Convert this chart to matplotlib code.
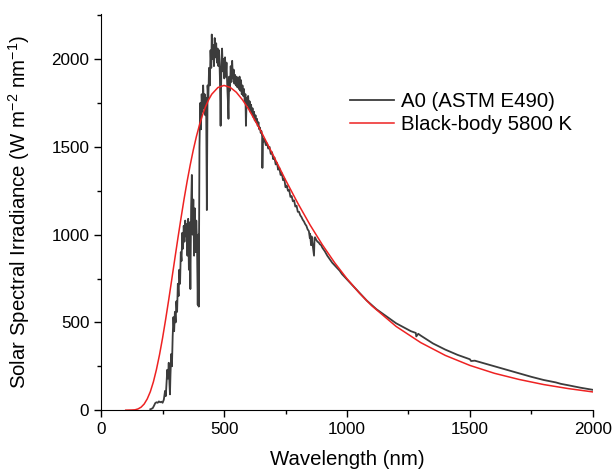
import numpy as np
import matplotlib
matplotlib.use('Agg')
import matplotlib.pyplot as plt
from matplotlib.ticker import MultipleLocator

plt.rcParams['font.family'] = ['Liberation Sans', 'DejaVu Sans']
plt.rcParams['mathtext.fontset'] = 'custom'
plt.rcParams['mathtext.rm'] = 'Liberation Sans'
plt.rcParams['mathtext.it'] = 'Liberation Sans'

# AM0 spectrum (nm, W m-2 nm-1 as labelled)
am0_wl = [200, 205, 210, 215, 220, 225, 230, 235, 240, 245, 250, 255, 260, 263, 266, 269, 272, 275, 278, 280,
          282, 285, 288, 291, 294, 297, 300, 303, 306, 309, 312, 315, 318, 321, 324, 327, 330, 333, 336, 339,
          342, 345, 348, 351, 354, 357, 360, 363, 366, 369, 372, 375, 378, 381, 384, 387, 390, 393, 396, 397,
          400, 403, 406, 409, 412, 415, 418, 421, 424, 427, 430, 433, 436, 439, 442, 445, 448, 450, 453, 456,
          459, 462, 465, 468, 471, 474, 477, 480, 483, 486, 489, 492, 495, 498, 501, 504, 507, 510, 513, 516,
          518, 521, 524, 527, 530, 533, 536, 539, 542, 545, 548, 551, 554, 557, 560, 563, 566, 569, 572, 575,
          578, 581, 584, 587, 589, 592, 595, 598, 601, 604, 607, 610, 613, 616, 619, 622, 625, 628, 631, 634,
          637, 640, 643, 646, 649, 652, 655, 656, 658, 661, 665, 670, 675, 680, 685, 690, 695, 700, 705, 710,
          715, 720, 725, 730, 735, 740, 745, 750, 755, 760, 765, 770, 775, 780, 785, 790, 795, 800, 805, 810,
          815, 820, 825, 830, 835, 840, 845, 849, 850, 854, 856, 866, 868, 870, 875, 880, 885, 890, 895, 900,
          910, 920, 930, 940, 950, 960, 970, 980, 990, 1000, 1020, 1040, 1060, 1080, 1100, 1120, 1140, 1160, 1180, 1200,
          1220, 1240, 1260, 1280, 1282, 1290, 1300, 1350, 1400, 1450, 1500, 1505, 1520, 1550, 1600, 1650, 1700, 1750, 1800, 1850,
          1870, 1900, 1950, 2000]
am0_val = [5, 8, 12, 25, 40, 45, 42, 50, 45, 48, 42, 60, 110, 80, 150, 230, 180, 270, 150, 90,
           200, 320, 250, 420, 530, 450, 560, 500, 620, 560, 720, 650, 800, 720, 900, 850, 1010, 920, 1050, 960,
           1080, 990, 1060, 880, 1090, 800, 1070, 690, 1150, 1340, 1000, 1200, 880, 1150, 900, 1080, 950, 600, 1000, 590,
           1500, 1750, 1600, 1800, 1700, 1850, 1720, 1800, 1680, 1780, 1140, 1850, 1780, 1950, 1850, 2050, 1950, 2140, 2000, 2080,
           1960, 2120, 2010, 2090, 1980, 2060, 1960, 2050, 1900, 1620, 1950, 2060, 1930, 2000, 1890, 2010, 1900, 1980, 1850, 1750,
           1660, 1900, 1820, 1960, 1870, 1990, 1890, 1940, 1860, 1910, 1850, 1900, 1840, 1890, 1830, 1900, 1820, 1880, 1800, 1850,
           1790, 1830, 1760, 1800, 1620, 1780, 1740, 1790, 1720, 1760, 1700, 1740, 1690, 1720, 1670, 1700, 1650, 1680, 1640, 1660,
           1620, 1640, 1600, 1610, 1580, 1590, 1560, 1380, 1550, 1530, 1540, 1510, 1520, 1490, 1500, 1460, 1470, 1430, 1440, 1400,
           1410, 1370, 1380, 1340, 1350, 1310, 1320, 1270, 1280, 1250, 1255, 1215, 1220, 1190, 1195, 1160, 1165, 1130, 1130, 1110,
           1100, 1085, 1075, 1060, 1050, 1030, 1020, 980, 1005, 940, 990, 880, 980, 985, 970, 960, 955, 945, 940, 925,
           905, 880, 860, 840, 825, 810, 795, 775, 760, 745, 715, 685, 655, 625, 600, 575, 555, 535, 515, 495,
           480, 465, 450, 440, 420, 435, 425, 380, 345, 315, 290, 280, 282, 270, 250, 230, 210, 190, 172, 158,
           150, 142, 128, 116]

# black-body 5800 K curve
bb_wl = [100, 125, 137.5, 150, 162.5, 175, 187.5, 200, 212.5, 225, 237.5, 250, 262.5, 275, 287.5, 300, 312.5, 325,
         337.5, 350, 362.5, 375, 387.5, 400, 412.5, 425, 437.5, 450, 475, 500, 525, 550, 575,
         600, 650, 700, 750, 800, 850, 900, 950, 1000, 1050, 1100, 1200, 1300, 1400, 1500, 1600, 1700, 1800, 1900, 2000]
bb_val = [0, 1, 2, 7, 17, 35, 64, 105, 161, 232, 316, 412, 518, 630, 747, 865, 982, 1095,
          1204, 1305, 1398, 1483, 1559, 1625, 1682, 1730, 1769, 1800, 1838, 1850, 1839, 1811, 1768,
          1715, 1590, 1452, 1312, 1179, 1055, 942, 840, 749, 668, 596, 477, 385, 312, 255, 210, 175, 146, 123, 104]

fig = plt.figure(figsize=(6.13, 4.72), dpi=100)
ax = fig.add_axes([0.165, 0.131, 0.802, 0.839])

ax.plot(am0_wl, am0_val, color='#3c3c3c', lw=1.3, label='A0 (ASTM E490)')
ax.plot(bb_wl, bb_val, color='#ee2222', lw=1.1, label='Black-body 5800 K')

ax.set_xlim(0, 2000)
ax.set_ylim(0, 2256)
ax.xaxis.set_major_locator(MultipleLocator(500))
ax.xaxis.set_minor_locator(MultipleLocator(250))
ax.yaxis.set_major_locator(MultipleLocator(500))
ax.yaxis.set_minor_locator(MultipleLocator(250))
ax.tick_params(which='major', direction='out', length=5, width=1, labelsize=12.3)
ax.tick_params(which='minor', direction='out', length=3, width=1)
ax.spines['top'].set_visible(False)
ax.spines['right'].set_visible(False)

ax.set_xlabel('Wavelength (nm)', fontsize=14.7, labelpad=9.5)
ax.set_ylabel('Solar Spectral Irradiance (W m$^{-2}$ nm$^{-1}$)', fontsize=14.7, labelpad=14)

ax.legend(loc='upper left', bbox_to_anchor=(0.469, 0.849), frameon=False, fontsize=14.7,
          handlelength=2.16, handletextpad=0.33, labelspacing=0.2, borderpad=0.4)

fig.savefig('out.png', dpi=100)
